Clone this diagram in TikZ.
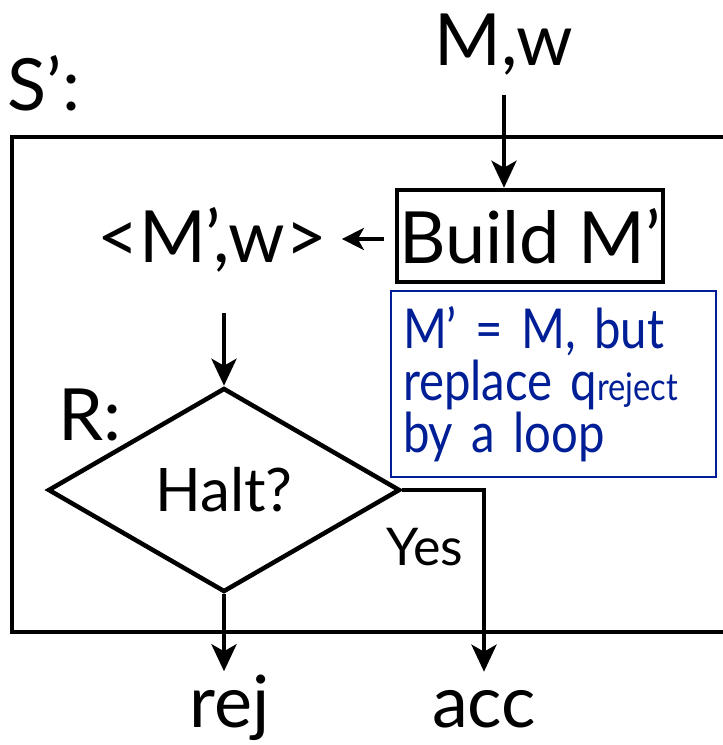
\documentclass[tikz,border=0pt]{standalone}
\usepackage{fontspec}
\setmainfont{Lato}
\newfontfamily\notefont[FakeStretch=0.86]{Lato}
\usetikzlibrary{shapes.geometric,arrows.meta}
\definecolor{noteblue}{RGB}{0,30,150}
\begin{document}
\begin{tikzpicture}[x=1pt,y=-1pt,
  big/.style={font=\fontsize{72}{80}\selectfont, inner sep=0pt},
  thick4/.style={line width=4.5pt},
  arr/.style={line width=4.5pt,-{Stealth[length=27pt,width=25pt,inset=7pt]}},
  smallarr/.style={line width=4.5pt,-{Stealth[length=22pt,width=22pt,inset=6pt]}},
  box/.style={draw, line width=4.5pt, inner sep=0pt},
  note/.style={draw=noteblue, line width=2pt, text=noteblue, inner xsep=12pt,
    font=\notefont\fontsize{55}{52}\selectfont, align=left}
]
\useasboundingbox (0,0) rectangle (723,745);
\clip (0,0) rectangle (723,745);
% outer machine S'
\draw[thick4] (12,137) rectangle (760,632);
\node[big, anchor=base] (mw) at (504,65) {M,w};
\node[big, anchor=base] (s) at (44,110) {S’:};
\node[box, big, minimum width=266pt, minimum height=92pt] (build) at (530,236) {Build M’};
\node[big, anchor=base] (mp) at (212,262) {<M’,w>};
\node[note, minimum width=325pt, minimum height=186pt, text width=301pt] (nt) at (553.5,384)
  {M’ = M, but\\replace q{\fontsize{38}{38}\selectfont reject}\\by a loop};
\node[draw, thick4, diamond, minimum width=352pt, minimum height=204pt, inner sep=0pt,
  font=\fontsize{60}{70}\selectfont] (halt) at (224,490) {Halt?};
\node[big, anchor=base] (r) at (90,440) {R:};
\node[font=\fontsize{52}{60}\selectfont, anchor=base, inner sep=0pt] (yes) at (425,565) {Yes};
\node[big, anchor=base] (rej) at (230,727) {rej};
\node[big, anchor=base] (acc) at (484,727) {acc};
\coordinate (a1) at (224,313);
% connectors
\draw[arr] ([yshift=-30pt]mw.base) -- (mw.base |- build.north);
\draw[smallarr, shorten >=15pt] ([xshift=-11pt,yshift=-3pt]build.west) -- ([yshift=-3pt]build.west -| mp.east);
\draw[arr] (a1) -- (halt.north);
\draw[arr, shorten >=3pt] (halt.south) -- (halt.south |- rej.north);
\draw[arr, shorten >=18pt] (halt.east) -| (acc.north);
\end{tikzpicture}
\end{document}
